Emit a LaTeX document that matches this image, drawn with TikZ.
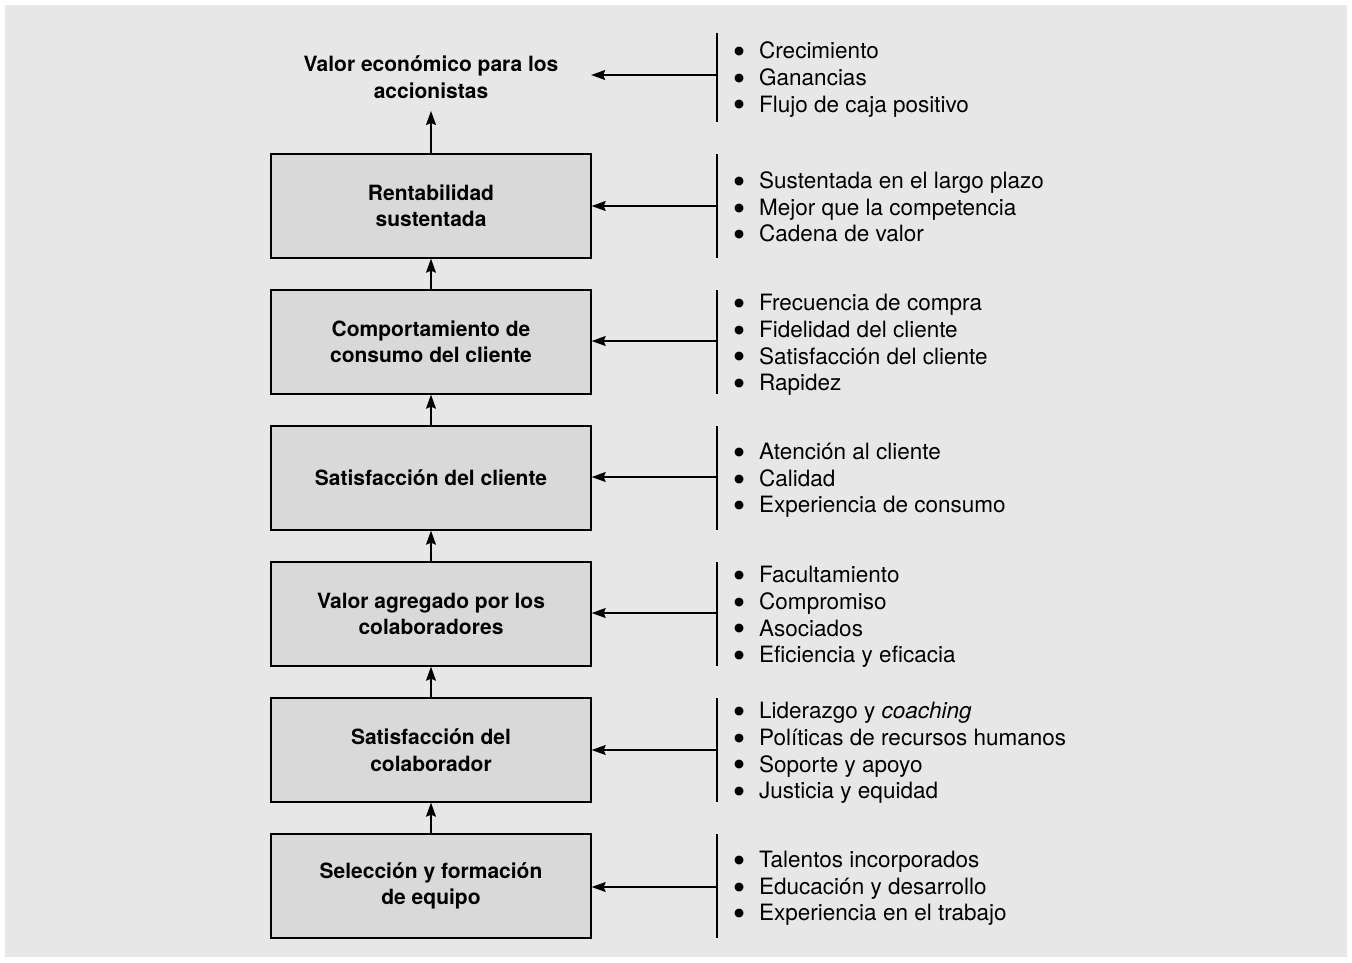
\documentclass[tikz,border=0pt]{standalone}
\usepackage{fontspec}
\setmainfont{TeX Gyre Heros}
\newfontfamily\dejavu{DejaVu Sans}
\usetikzlibrary{arrows.meta}
\definecolor{bg}{HTML}{E7E7E7}
\definecolor{boxgray}{HTML}{D9D9D9}
\newcommand{\bl}[1]{\makebox[28pt][l]{\hspace{3pt}\raisebox{4.2pt}{\dejavu\fontsize{11.5}{0}\selectfont ●}}#1}
\begin{document}
\begin{tikzpicture}[x=1pt,y=-1pt,
  box/.style={draw=black, line width=1.4pt, fill=boxgray, minimum width=320pt, minimum height=104pt,
    inner sep=0pt, align=center, font=\bfseries\fontsize{21}{26.5}\selectfont},
  toptext/.style={minimum width=320pt, minimum height=70pt, inner sep=0pt, align=center,
    font=\bfseries\fontsize{21}{26.5}\selectfont},
  list/.style={anchor=west, inner sep=0pt, align=left, font=\fontsize{22.5}{26.7}\selectfont},
  arr/.style={line width=1.2pt, -{Stealth[length=14pt,width=10pt,inset=2pt]}},
  bar/.style={line width=1.2pt}]
\useasboundingbox (0,0) rectangle (1352,962);
\fill[bg] (5,5) rectangle (1347,957);
% left column
\node[toptext] (top) at (431,77) {Valor económico para los\\accionistas};
\node[box] (b1) at (431,206) {Rentabilidad\\sustentada};
\node[box] (b2) at (431,342) {Comportamiento de\\consumo del cliente};
\node[box] (b3) at (431,478) {Satisfacción del cliente};
\node[box] (b4) at (431,614) {Valor agregado por los\\colaboradores};
\node[box] (b5) at (431,750) {Satisfacción del\\colaborador};
\node[box] (b6) at (431,886) {Selección y formación\\de equipo};
% vertical arrows
\coordinate (tt) at (431,111);
\draw[arr] (b1.north) -- (tt);
\draw[arr] (b2.north) -- (b1.south);
\draw[arr] (b3.north) -- (b2.south);
\draw[arr] (b4.north) -- (b3.south);
\draw[arr] (b5.north) -- (b4.south);
\draw[arr] (b6.north) -- (b5.south);
% bars
\draw[bar] (717,33) -- (717,122);
\draw[bar] (717,154) -- (717,258);
\draw[bar] (717,290) -- (717,394);
\draw[bar] (717,426) -- (717,530);
\draw[bar] (717,562) -- (717,666);
\draw[bar] (717,698) -- (717,802);
\draw[bar] (717,834) -- (717,938);
\coordinate (c0) at (717,75);
\coordinate (c1) at (717,206);
\coordinate (c2) at (717,341);
\coordinate (c3) at (717,477);
\coordinate (c4) at (717,613);
\coordinate (c5) at (717,750);
\coordinate (c6) at (717,887);
\draw[arr] (c0) -- (top.east |- c0);
\draw[arr] (c1) -- (b1.east);
\draw[arr] (c2) -- (b2.east |- c2);
\draw[arr] (c3) -- (b3.east |- c3);
\draw[arr] (c4) -- (b4.east |- c4);
\draw[arr] (c5) -- (b5.east);
\draw[arr] (c6) -- (b6.east |- c6);
% lists
\node[list] (l0) at (731,79.5) {\bl{Crecimiento}\\\bl{Ganancias}\\\bl{Flujo de caja positivo}};
\node[list] (l1) at (731,207) {\bl{Sustentada en el largo plazo}\\\bl{Mejor que la competencia}\\\bl{Cadena de valor}};
\node[list] (l2) at (731,345) {\bl{Frecuencia de compra}\\\bl{Fidelidad del cliente}\\\bl{Satisfacción del cliente}\\\bl{Rapidez}};
\node[list] (l3) at (731,480.5) {\bl{Atención al cliente}\\\bl{Calidad}\\\bl{Experiencia de consumo}};
\node[list] (l4) at (731,617) {\bl{Facultamiento}\\\bl{Compromiso}\\\bl{Asociados}\\\bl{Eficiencia y eficacia}};
\node[list] (l5) at (731,753) {\bl{Liderazgo y \textit{coaching}}\\\bl{Políticas de recursos humanos}\\\bl{Soporte y apoyo}\\\bl{Justicia y equidad}};
\node[list] (l6) at (731,888.5) {\bl{Talentos incorporados}\\\bl{Educación y desarrollo}\\\bl{Experiencia en el trabajo}};
\end{tikzpicture}
\end{document}
